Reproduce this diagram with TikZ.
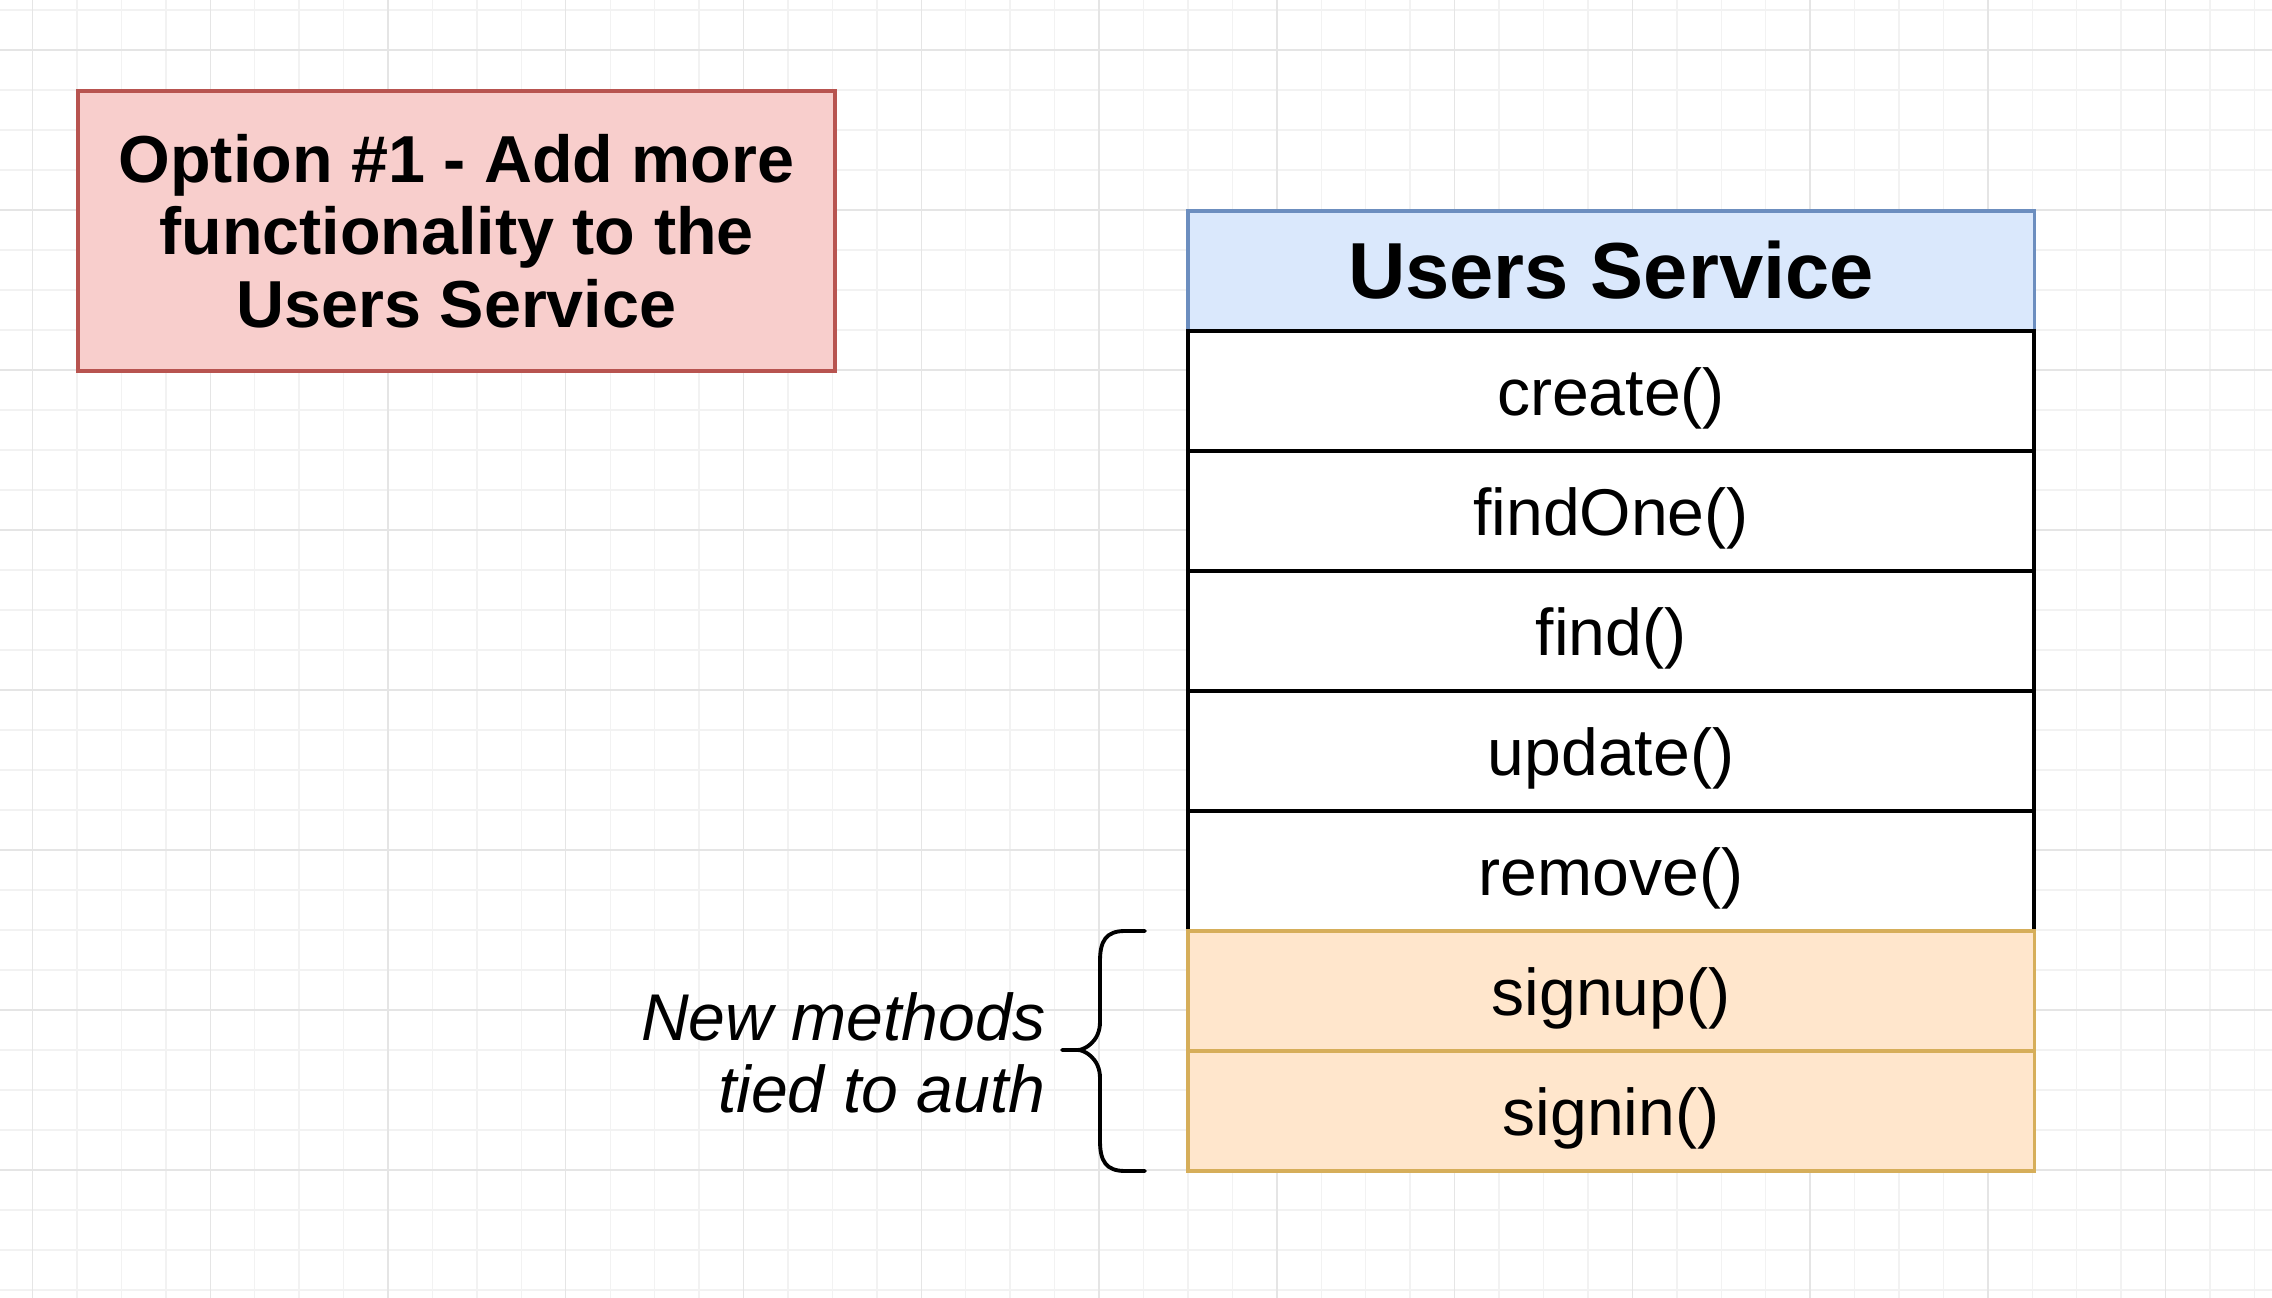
\documentclass[tikz,border=0pt]{standalone}
\usepackage{fontspec}
\setmainfont{Liberation Sans}
\definecolor{optfill}{HTML}{F8CECC}
\definecolor{optline}{HTML}{B85450}
\definecolor{headfill}{HTML}{DAE8FC}
\definecolor{headline}{HTML}{6C8EBF}
\definecolor{authfill}{HTML}{FFE6CC}
\definecolor{authline}{HTML}{D6AE5A}
\begin{document}
\begin{tikzpicture}[x=0.01cm,y=-0.01cm]
\useasboundingbox (0,0) rectangle (2272,1298);
\fill[white] (0,0) rectangle (2272,1298);
% grid
\foreach \k in {0,...,50} \draw[black!5,line width=0.4pt] (32.5+44.44*\k,0) -- (32.5+44.44*\k,1298);
\foreach \k in {0,...,32} \draw[black!5,line width=0.4pt] (0,10+40*\k) -- (2272,10+40*\k);
\foreach \k in {0,4,...,48} \draw[black!10,line width=0.4pt] (32.5+44.44*\k,0) -- (32.5+44.44*\k,1298);
\foreach \k in {1,5,...,29} \draw[black!10,line width=0.4pt] (0,10+40*\k) -- (2272,10+40*\k);
\tikzstyle{optbox}=[draw=optline,fill=optfill,line width=1pt,minimum width=7.57cm,minimum height=2.8cm,inner sep=0pt,align=center,font=\bfseries\fontsize{18.9}{20.6}\selectfont]
\tikzstyle{row}=[draw=black,fill=white,line width=1.1pt,minimum width=8.46cm,minimum height=1.2cm,inner sep=0pt,text height=14.3pt,text depth=0.5pt,font=\fontsize{18.8}{20}\selectfont]
\tikzstyle{head}=[row,draw=headline,fill=headfill,line width=1pt,text height=15.5pt,text depth=0pt,font=\bfseries\fontsize{22.6}{24}\selectfont]
\tikzstyle{auth}=[row,draw=authline,fill=authfill,line width=1pt]
\tikzstyle{brace}=[line width=1.1pt,line cap=round]
\node[optbox] (opt) at (456.5,231) {Option \#1 - Add more\\functionality to the\\Users Service};
% users service table
\node[head] (us) at (1611,271) {Users Service};
\node[row] (m1) at (1611,391) {create()};
\node[row] (m2) at (1611,511) {findOne()};
\node[row] (m3) at (1611,631) {find()};
\node[row] (m4) at (1611,751) {update()};
\node[row] (m5) at (1611,871) {remove()};
\node[auth] (a1) at (1611,991) {signup()};
\node[auth] (a2) at (1611,1111) {signin()};
% brace and note
\coordinate (bt) at (1145,931);
\coordinate (bb) at (1145,1171);
\coordinate (bm) at (1062,1050);
\draw[brace] (bt) -- ++(-20,0) .. controls +(-19,0) and +(0,-20) .. ++(-25,30) -- ++(0,61) .. controls +(0,20) and +(6,0) .. ++(-22,28) -- (bm);
\draw[brace] (bb) -- ++(-20,0) .. controls +(-19,0) and +(0,20) .. ++(-25,-30) -- ++(0,-63) .. controls +(0,-20) and +(6,0) .. ++(-22,-28);
\node[align=right,inner sep=0pt,anchor=east,font=\itshape\fontsize{18.8}{20.5}\selectfont] (nm) at (1046,1053) {New methods\\tied to auth};
\end{tikzpicture}
\end{document}
